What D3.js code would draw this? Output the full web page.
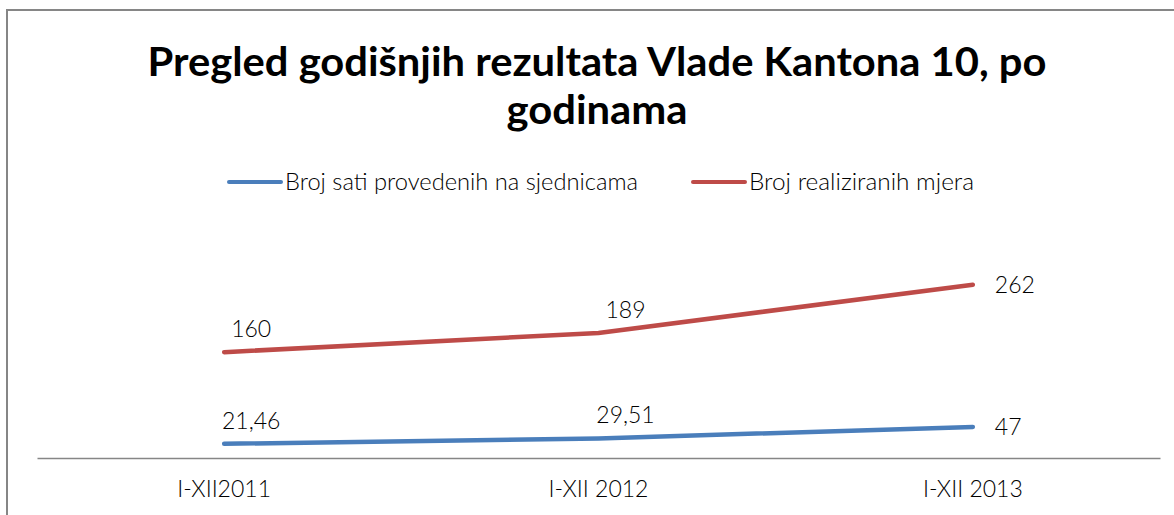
<!DOCTYPE html>
<html>
<head>
<meta charset="utf-8">
<script src="https://cdn.jsdelivr.net/npm/d3@7"></script>
<style>
  body { margin: 0; background: #fff; }
  text { font-family: Lato, "Open Sans", sans-serif; fill: #000; }
</style>
</head>
<body>
<svg id="chart"></svg>
<script>
// ---------------------------- data -----------------------------------
const categories = ['I-XII2011', 'I-XII 2012', 'I-XII 2013'];
const seriesNames = ['Broj sati provedenih na sjednicama', 'Broj realiziranih mjera'];
const satiValues = [21.46, 29.51, 47];
const mjereValues = [160, 189, 262];
const satiLabels = ['21,46', '29,51', '47'];
const mjereLabels = ['160', '189', '262'];
const titleLines = ['Pregled godišnjih rezultata Vlade Kantona 10, po', 'godinama'];

const seriesColors = ['#4A7EBB', '#BE4B48'];

// ---------------------------- svg -----------------------------------
const width = 1174;
const height = 515;
const svg = d3.select('#chart')
  .attr('width', width)
  .attr('height', height);

// outer chart border (right/bottom are cut off in the picture)
svg.append('rect')
  .attr('x', 7).attr('y', 10)
  .attr('width', 1200).attr('height', 540)
  .attr('fill', 'none')
  .attr('stroke', '#868686')
  .attr('stroke-width', 2);

// title
const titleWidths = [899, 181];
svg.selectAll('.title')
  .data(titleLines)
  .enter()
  .append('text')
  .attr('class', 'title')
  .attr('x', 597)
  .attr('y', (d, i) => 76 + i * 48)
  .attr('text-anchor', 'middle')
  .attr('font-size', 40)
  .attr('font-weight', 'bold')
  .attr('textLength', (d, i) => titleWidths[i])
  .attr('lengthAdjust', 'spacingAndGlyphs')
  .text(d => d);

// legend
const legendX = [229, 693];
const legendTextW = [353, 225];
const legend = svg.selectAll('.legend')
  .data(seriesNames)
  .enter()
  .append('g')
  .attr('class', 'legend')
  .attr('transform', (d, i) => `translate(${legendX[i]},182)`);

legend.append('line')
  .attr('x1', 0).attr('x2', 52)
  .attr('y1', 0).attr('y2', 0)
  .attr('stroke', (d, i) => seriesColors[i])
  .attr('stroke-width', 4)
  .attr('stroke-linecap', 'round');

legend.append('text')
  .attr('x', 56)
  .attr('y', 8)
  .attr('font-size', 23)
  .attr('font-weight', 300)
  .attr('textLength', (d, i) => legendTextW[i])
  .attr('lengthAdjust', 'spacingAndGlyphs')
  .text(d => d);

// ---------------------------- scales -----------------------------------
const x = d3.scaleBand()
  .domain(categories)
  .range([37, 1160]);

const y = d3.scaleLinear()
  .domain([0, 390])
  .range([458, 200]);

const cx = c => x(c) + x.bandwidth() / 2;

// x axis
const xAxis = svg.append('g')
  .attr('transform', 'translate(0,458)')
  .call(d3.axisBottom(x).tickSize(0).tickSizeOuter(0));

xAxis.select('.domain')
  .attr('stroke', '#868686')
  .attr('stroke-width', 1.5);

xAxis.selectAll('text')
  .attr('y', 39)
  .attr('dy', 0)
  .attr('font-size', 23)
  .attr('font-weight', 300)
  .attr('font-family', 'Lato, sans-serif')
  .attr('fill', '#000');

// ---------------------------- lines -----------------------------------
const allSeries = [
  { values: satiValues, labels: satiLabels },
  { values: mjereValues, labels: mjereLabels }
];

const line = d3.line()
  .x((d, i) => cx(categories[i]))
  .y(d => y(d));

allSeries.forEach(function(s, si) {
  svg.append('path')
    .datum(s.values)
    .attr('d', line)
    .attr('fill', 'none')
    .attr('stroke', seriesColors[si])
    .attr('stroke-width', 4.5)
    .attr('stroke-linecap', 'round')
    .attr('stroke-linejoin', 'round');

  // data labels: above for the first points, right of the last one
  svg.selectAll('.lbl' + si)
    .data(s.values)
    .enter()
    .append('text')
    .attr('class', 'lbl' + si)
    .attr('x', (d, i) => i === s.values.length - 1 ? cx(categories[i]) + 22 : cx(categories[i]) + 27)
    .attr('y', (d, i) => i === s.values.length - 1 ? y(d) + 8 : y(d) - 15)
    .attr('text-anchor', (d, i) => i === s.values.length - 1 ? 'start' : 'middle')
    .attr('font-size', 23)
    .attr('font-weight', 300)
    .text((d, i) => s.labels[i]);
});
</script>
</body>
</html>
